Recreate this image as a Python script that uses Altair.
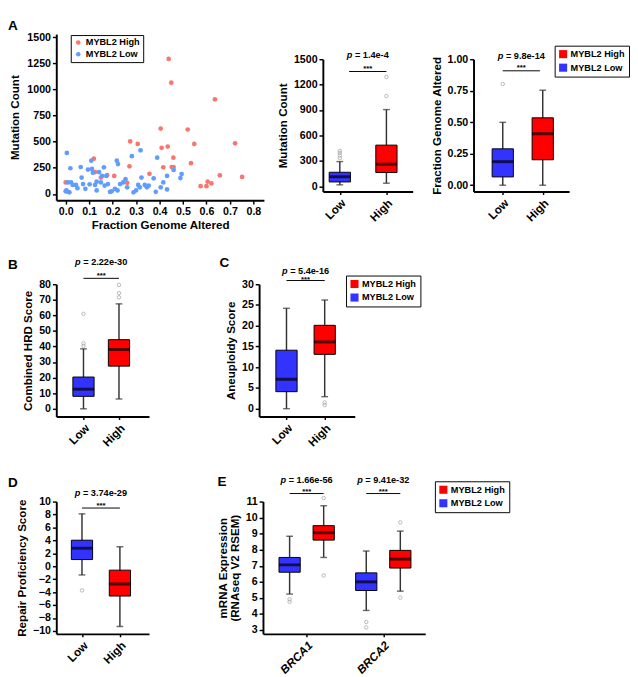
import altair as alt
import pandas as pd

FONT = "Liberation Sans"
GROUPS = ["MYBL2 High", "MYBL2 Low"]
BOX_COLORS = ["#FF0000", "#3333FF"]
DOT_COLORS = ["#F8766D", "#619CFF"]
WHISKER = "#333333"
OUTLIER = "#9a9a9a"

# ---------------- Panel A: scatter ----------------
high_fga = [0.00, 0.12, 0.125, 0.15, 0.177, 0.207, 0.262, 0.275, 0.272, 0.307,
            0.357, 0.405, 0.409, 0.416, 0.435, 0.439, 0.45, 0.459, 0.452, 0.46,
            0.52, 0.548, 0.534, 0.575, 0.60, 0.605, 0.621, 0.636, 0.657, 0.722, 0.752]
high_mut = [110, 338, 209, 157, 181, 172, 107, 503, 264, 479,
            193, 626, 442, 255, 454, 1292, 1065, 347, 258, 258,
            617, 479, 295, 74, 74, 117, 101, 906, 178, 485, 163]
low_fga = [0.005, 0.020, 0.003, 0.010, 0.016, 0.000, 0.023, 0.030, 0.010, 0.044,
           0.050, 0.064, 0.068, 0.074, 0.084, 0.095, 0.102, 0.109, 0.112, 0.116,
           0.125, 0.132, 0.132, 0.142, 0.150, 0.155, 0.163, 0.166, 0.173, 0.180,
           0.189, 0.196, 0.210, 0.221, 0.218, 0.223, 0.232, 0.245, 0.255, 0.262,
           0.282, 0.289, 0.300, 0.309, 0.316, 0.319, 0.323, 0.337, 0.346, 0.354,
           0.375, 0.390, 0.384, 0.405, 0.416, 0.432, 0.432, 0.460, 0.489, 0.494]
low_mut = [393, 246, 34, 20, 16, 25, 110, 86, 110, 86,
           55, 258, 157, 95, 49, 233, 92, 319, 239, 203,
           86, 34, 117, 209, 110, 172, 255, 80, 172, 95,
           20, 25, 49, 34, 319, 286, 95, 110, 141, 64,
           362, 16, 34, 86, 64, 418, 157, 86, 64, 80,
           150, 347, 20, 64, 110, 172, 43, 230, 152, 190]
sc_xticks = [0.0, 0.1, 0.2, 0.3, 0.4, 0.5, 0.6, 0.7, 0.8]
sc_yticks = [0, 250, 500, 750, 1000, 1250, 1500]

# ---------------- Box panels: [low whisker, Q1, median, Q3, high whisker] ----------------
box_labels = ["Low", "High"]
box_pos = [0, 1]
box_grp = ["MYBL2 Low", "MYBL2 High"]

mut_stats = [[19, 53, 114, 167, 293], [38, 164, 263, 487, 906]]
mut_out = [[335, 365, 396, 419], [1066, 1291]]
mut_ticks = [0, 300, 600, 900, 1200, 1500]

fga_stats = [[0.0, 0.066, 0.187, 0.289, 0.499], [0.0, 0.202, 0.409, 0.535, 0.754]]
fga_out = [[0.803], []]
fga_ticks = [0.0, 0.25, 0.5, 0.75, 1.0]

hrd_stats = [[0, 8, 12.6, 20.4, 38.5], [6.3, 27.4, 38.1, 44.4, 67.4]]
hrd_out = [[40.4, 42, 61], [71.6, 74.3, 79.6]]
hrd_ticks = [0, 10, 20, 30, 40, 50, 60, 70, 80]

aneu_stats = [[0, 4.1, 7.1, 14.1, 24.2], [2.9, 13.1, 16.1, 20.1, 26.2]]
aneu_out = [[], [0.9, 1.5]]
aneu_ticks = [0, 5, 10, 15, 20, 25, 30]

rps_stats = [[-1.34, 1.04, 2.79, 4.03, 8.1], [-9.3, -4.6, -2.74, -0.6, 3.03]]
rps_out = [[-3.73], []]
rps_ticks = [-10, -8, -6, -4, -2, 0, 2, 4, 6, 8, 10]

e_pos = [0, 1, 2.25, 3.25]
e_grp = ["MYBL2 Low", "MYBL2 High", "MYBL2 Low", "MYBL2 High"]
e_stats = [[5.24, 6.6, 7.06, 7.52, 8.84], [7.52, 8.6, 9.06, 9.5, 10.74],
           [4.22, 5.46, 6.0, 6.56, 7.92], [5.42, 6.86, 7.42, 7.96, 9.16]]
e_out = [[4.76, 4.92], [6.4, 11.22], [3.16, 3.5], [5.02, 9.7]]
e_ticks = [3, 4, 5, 6, 7, 8, 9, 10, 11]
e_genes = ["BRCA1", "BRCA2"]
e_gene_pos = [0.5, 2.75]

# p values
mut_p = ["1.4e-4"]; fga_p = ["9.8e-14"]; hrd_p = ["2.22e-30"]
aneu_p = ["5.4e-16"]; rps_p = ["3.74e-29"]; e_p = ["1.66e-56", "9.41e-32"]

CW = {".": 0.278, " ": 0.278, "=": 0.584, "e": 0.556, "-": 0.333, "p": 0.611}


def text_w(s, fs):
    return sum(CW.get(c, 0.556) for c in s) * fs


def label_expr(vals, labels):
    parts = [f"abs(datum.value - ({v})) < 0.001 ? '{lab}'" for v, lab in zip(vals, labels)]
    return " : ".join(parts) + " : ''"


def box_legend(lx, ly):
    return alt.Legend(title=None, orient="none", legendX=lx, legendY=ly, direction="vertical",
                      symbolType="square", symbolSize=70, symbolStrokeWidth=0, symbolOpacity=1,
                      labelFont=FONT, labelFontSize=9.5, labelFontWeight="bold", labelColor="black",
                      strokeColor="black", fillColor="white", padding=4, rowPadding=3, labelOffset=3)


def letter_title(letter, dx, dy):
    return alt.TitleParams(text=letter, anchor="start", frame="group", dx=dx, dy=dy, fontSize=14,
                           font=FONT, fontWeight="bold", color="black", offset=2)


def box_panel(pos, grp, stats, outs, xdom, ydom, yticks, ytitle, xvals, xlabels,
              br_x0, br_x1, br_y, star_y, p_y, pvals, width, height=137,
              legend=None, yfmt=None, italic_labels=False, letter=None, letter_dx=-50,
              letter_dy=0):
    box_df = pd.DataFrame({
        "pos": pos, "grp": grp,
        "lo": [s[0] for s in stats], "q1": [s[1] for s in stats], "med": [s[2] for s in stats],
        "q3": [s[3] for s in stats], "hi": [s[4] for s in stats],
    })
    out_df = pd.DataFrame({
        "pos": [p for p, o in zip(pos, outs) for _ in o],
        "val": [v for o in outs for v in o],
    })
    ann_df = pd.DataFrame({
        "x0": br_x0, "x1": br_x1, "mid": [(a + b) / 2 for a, b in zip(br_x0, br_x1)],
        "by": br_y, "sy": star_y, "py": p_y, "pv": ["= " + v for v in pvals],
    })
    xs = alt.Scale(domain=xdom, nice=False, zero=False)
    ys = alt.Scale(domain=ydom, nice=False, zero=False)
    xaxis = alt.Axis(values=xvals, labelExpr=label_expr(xvals, xlabels), labelAngle=-45,
                     labelAlign="right", labelBaseline="top", title=None, labelFontSize=12,
                     labelFontStyle="italic" if italic_labels else "normal", tickSize=3,
                     labelPadding=3)
    ykw = dict(values=yticks, title=ytitle, titlePadding=4)
    if yfmt:
        ykw["format"] = yfmt
    yaxis = alt.Axis(**ykw)

    def X(f):
        return alt.X(f, type="quantitative", scale=xs, axis=xaxis)

    def Y(f):
        return alt.Y(f, type="quantitative", scale=ys, axis=yaxis)

    base = alt.Chart(box_df)
    whisk = base.mark_rule(color=WHISKER, strokeWidth=1.5).encode(x=X("pos"), y=Y("lo"), y2="hi")
    cap_lo = base.mark_tick(orient="horizontal", size=7, thickness=1.5, color=WHISKER).encode(
        x=X("pos"), y=Y("lo"))
    cap_hi = base.mark_tick(orient="horizontal", size=7, thickness=1.5, color=WHISKER).encode(
        x=X("pos"), y=Y("hi"))
    color = alt.Color("grp:N", scale=alt.Scale(domain=GROUPS, range=BOX_COLORS), legend=legend)
    box = base.mark_bar(size=22, stroke="black", strokeWidth=1).encode(
        x=X("pos"), y=Y("q1"), y2="q3", color=color)
    med = base.mark_tick(orient="horizontal", size=22, thickness=3, color="black").encode(
        x=X("pos"), y=Y("med"))
    outl = alt.Chart(out_df).mark_point(shape="circle", size=13, filled=False, color=OUTLIER,
                                        strokeWidth=1).encode(x=X("pos"), y=Y("val"))
    br = alt.Chart(ann_df).mark_rule(color="black", strokeWidth=1).encode(
        x=X("x0"), x2="x1", y=Y("by"))
    stars = alt.Chart(ann_df).mark_text(text="***", font=FONT, fontSize=8, fontWeight="bold",
                                        color="black", dy=2).encode(x=X("mid"), y=Y("sy"))
    fs = 9.5
    wp = text_w("p ", fs)
    total = wp + text_w("= " + pvals[0], fs)
    p_it = alt.Chart(ann_df).mark_text(text="p", font=FONT, fontSize=fs, fontWeight="bold",
                                       fontStyle="italic", align="left", dx=-total / 2,
                                       color="black").encode(x=X("mid"), y=Y("py"))
    p_rest = alt.Chart(ann_df).mark_text(font=FONT, fontSize=fs, fontWeight="bold", align="left",
                                         dx=-total / 2 + wp, color="black").encode(
        x=X("mid"), y=Y("py"), text="pv:N")
    props = dict(width=width, height=height)
    if letter:
        props["title"] = letter_title(letter, letter_dx, letter_dy)
    return alt.layer(whisk, cap_lo, cap_hi, box, med, outl, br, stars, p_it, p_rest).properties(**props)


def spacer(w, h):
    return alt.Chart(pd.DataFrame({"s": [0]})).mark_point(opacity=0).encode(
        x=alt.value(0), y=alt.value(0)).properties(width=w, height=h)


# ---------------- Scatter ----------------
scatter_df = pd.DataFrame({
    "fga": high_fga + low_fga,
    "mut": high_mut + low_mut,
    "grp": [GROUPS[0]] * len(high_fga) + [GROUPS[1]] * len(low_fga),
})
scatter = alt.Chart(scatter_df).mark_circle(size=24, opacity=1).encode(
    x=alt.X("fga:Q", scale=alt.Scale(domain=[-0.04, 0.845], nice=False, zero=False),
            axis=alt.Axis(values=sc_xticks, format=".1f", title="Fraction Genome Altered",
                          titlePadding=3)),
    y=alt.Y("mut:Q", scale=alt.Scale(domain=[-60, 1530], nice=False, zero=False),
            axis=alt.Axis(values=sc_yticks, format="d", title="Mutation Count", titlePadding=6)),
    color=alt.Color("grp:N", scale=alt.Scale(domain=GROUPS, range=DOT_COLORS),
                    legend=alt.Legend(title=None, orient="none", legendX=15, legendY=1,
                                      symbolType="circle", symbolSize=22, symbolStrokeWidth=0,
                                      labelFont=FONT, labelFontSize=9.5, labelFontWeight="bold",
                                      labelColor="black", strokeColor="black", fillColor="white",
                                      padding=3, rowPadding=1, labelOffset=3)),
).properties(width=215, height=172, title=letter_title("A", -50, 4))

boxA1 = box_panel(box_pos, box_grp, mut_stats, mut_out, [-0.26, 1.46], [-60, 1500], mut_ticks,
                  "Mutation Count", box_pos, box_labels, [0.2], [1.0], [1355], [1412], [1549],
                  mut_p, 93, yfmt="d")
boxA2 = box_panel(box_pos, box_grp, fga_stats, fga_out, [-0.61, 1.54], [-0.05, 1.0], fga_ticks,
                  "Fraction Genome Altered", box_pos, box_labels, [0.0], [0.93], [0.908], [0.946],
                  [1.025], fga_p, 99, legend=box_legend(84, -14), yfmt=".2f")
boxB = box_panel(box_pos, box_grp, hrd_stats, hrd_out, [-0.63, 1.71], [-5, 80], hrd_ticks,
                 "Combined HRD Score", box_pos, box_labels, [0.0], [1.0], [83.8], [86.3], [94.3],
                 hrd_p, 96, letter="B", letter_dy=17)
boxC = box_panel(box_pos, box_grp, aneu_stats, aneu_out, [-0.59, 1.66], [-1.9, 30], aneu_ticks,
                 "Aneuploidy Score", box_pos, box_labels, [0.0], [1.0], [30.9], [31.4], [33.2],
                 aneu_p, 99, legend=box_legend(90, -9), letter="C", letter_dx=-41, letter_dy=6)
boxD = box_panel(box_pos, box_grp, rps_stats, rps_out, [-0.55, 1.64], [-10.45, 10], rps_ticks,
                 "Repair Proficiency Score", box_pos, box_labels, [0.0], [1.0], [9.0], [9.65],
                 [11.24], rps_p, 96, letter="D", letter_dy=3)
boxE = box_panel(e_pos, e_grp, e_stats, e_out, [-0.64, 3.84], [2.76, 11], e_ticks,
                 ["mRNA Expression", "(RNAseq V2 RSEM)"], e_gene_pos, e_genes,
                 [0.0, 2.25], [1.0, 3.25], [11.5, 11.5], [11.72, 11.72], [12.36, 12.36],
                 e_p, 168, legend=box_legend(178, -21), italic_labels=True, letter="E",
                 letter_dx=-47, letter_dy=17)


def ind(c):
    return c.resolve_scale(color="independent").resolve_legend(color="independent")


colA1 = ind(alt.vconcat(spacer(93, 16), boxA1, spacing=0))
colA2 = ind(alt.vconcat(spacer(99, 11), boxA2, spacing=0))
row1 = ind(alt.hconcat(scatter, ind(alt.hconcat(colA1, colA2, spacing=18)), spacing=13))
row2 = ind(alt.hconcat(boxB, boxC, spacing=73))
row3 = ind(alt.hconcat(boxD, boxE, spacing=69))
rows23 = ind(alt.vconcat(row2, row3, spacing=27))
chart = ind(alt.vconcat(row1, rows23, spacing=27)).properties(padding=0)

chart = chart.configure_view(strokeWidth=0).configure_axis(
    labelFont=FONT, labelFontSize=11, labelFontWeight="bold", labelColor="black",
    titleFont=FONT, titleFontSize=12, titleFontWeight="bold", titleColor="black",
    domainColor="black", domainWidth=2, tickColor="black", tickWidth=1.5, tickSize=4,
    grid=False, labelPadding=2, labelOverlap=False, labelFlush=False, titleLineHeight=13)

chart.save("out.html", embed_options={"renderer": "svg", "actions": False})
